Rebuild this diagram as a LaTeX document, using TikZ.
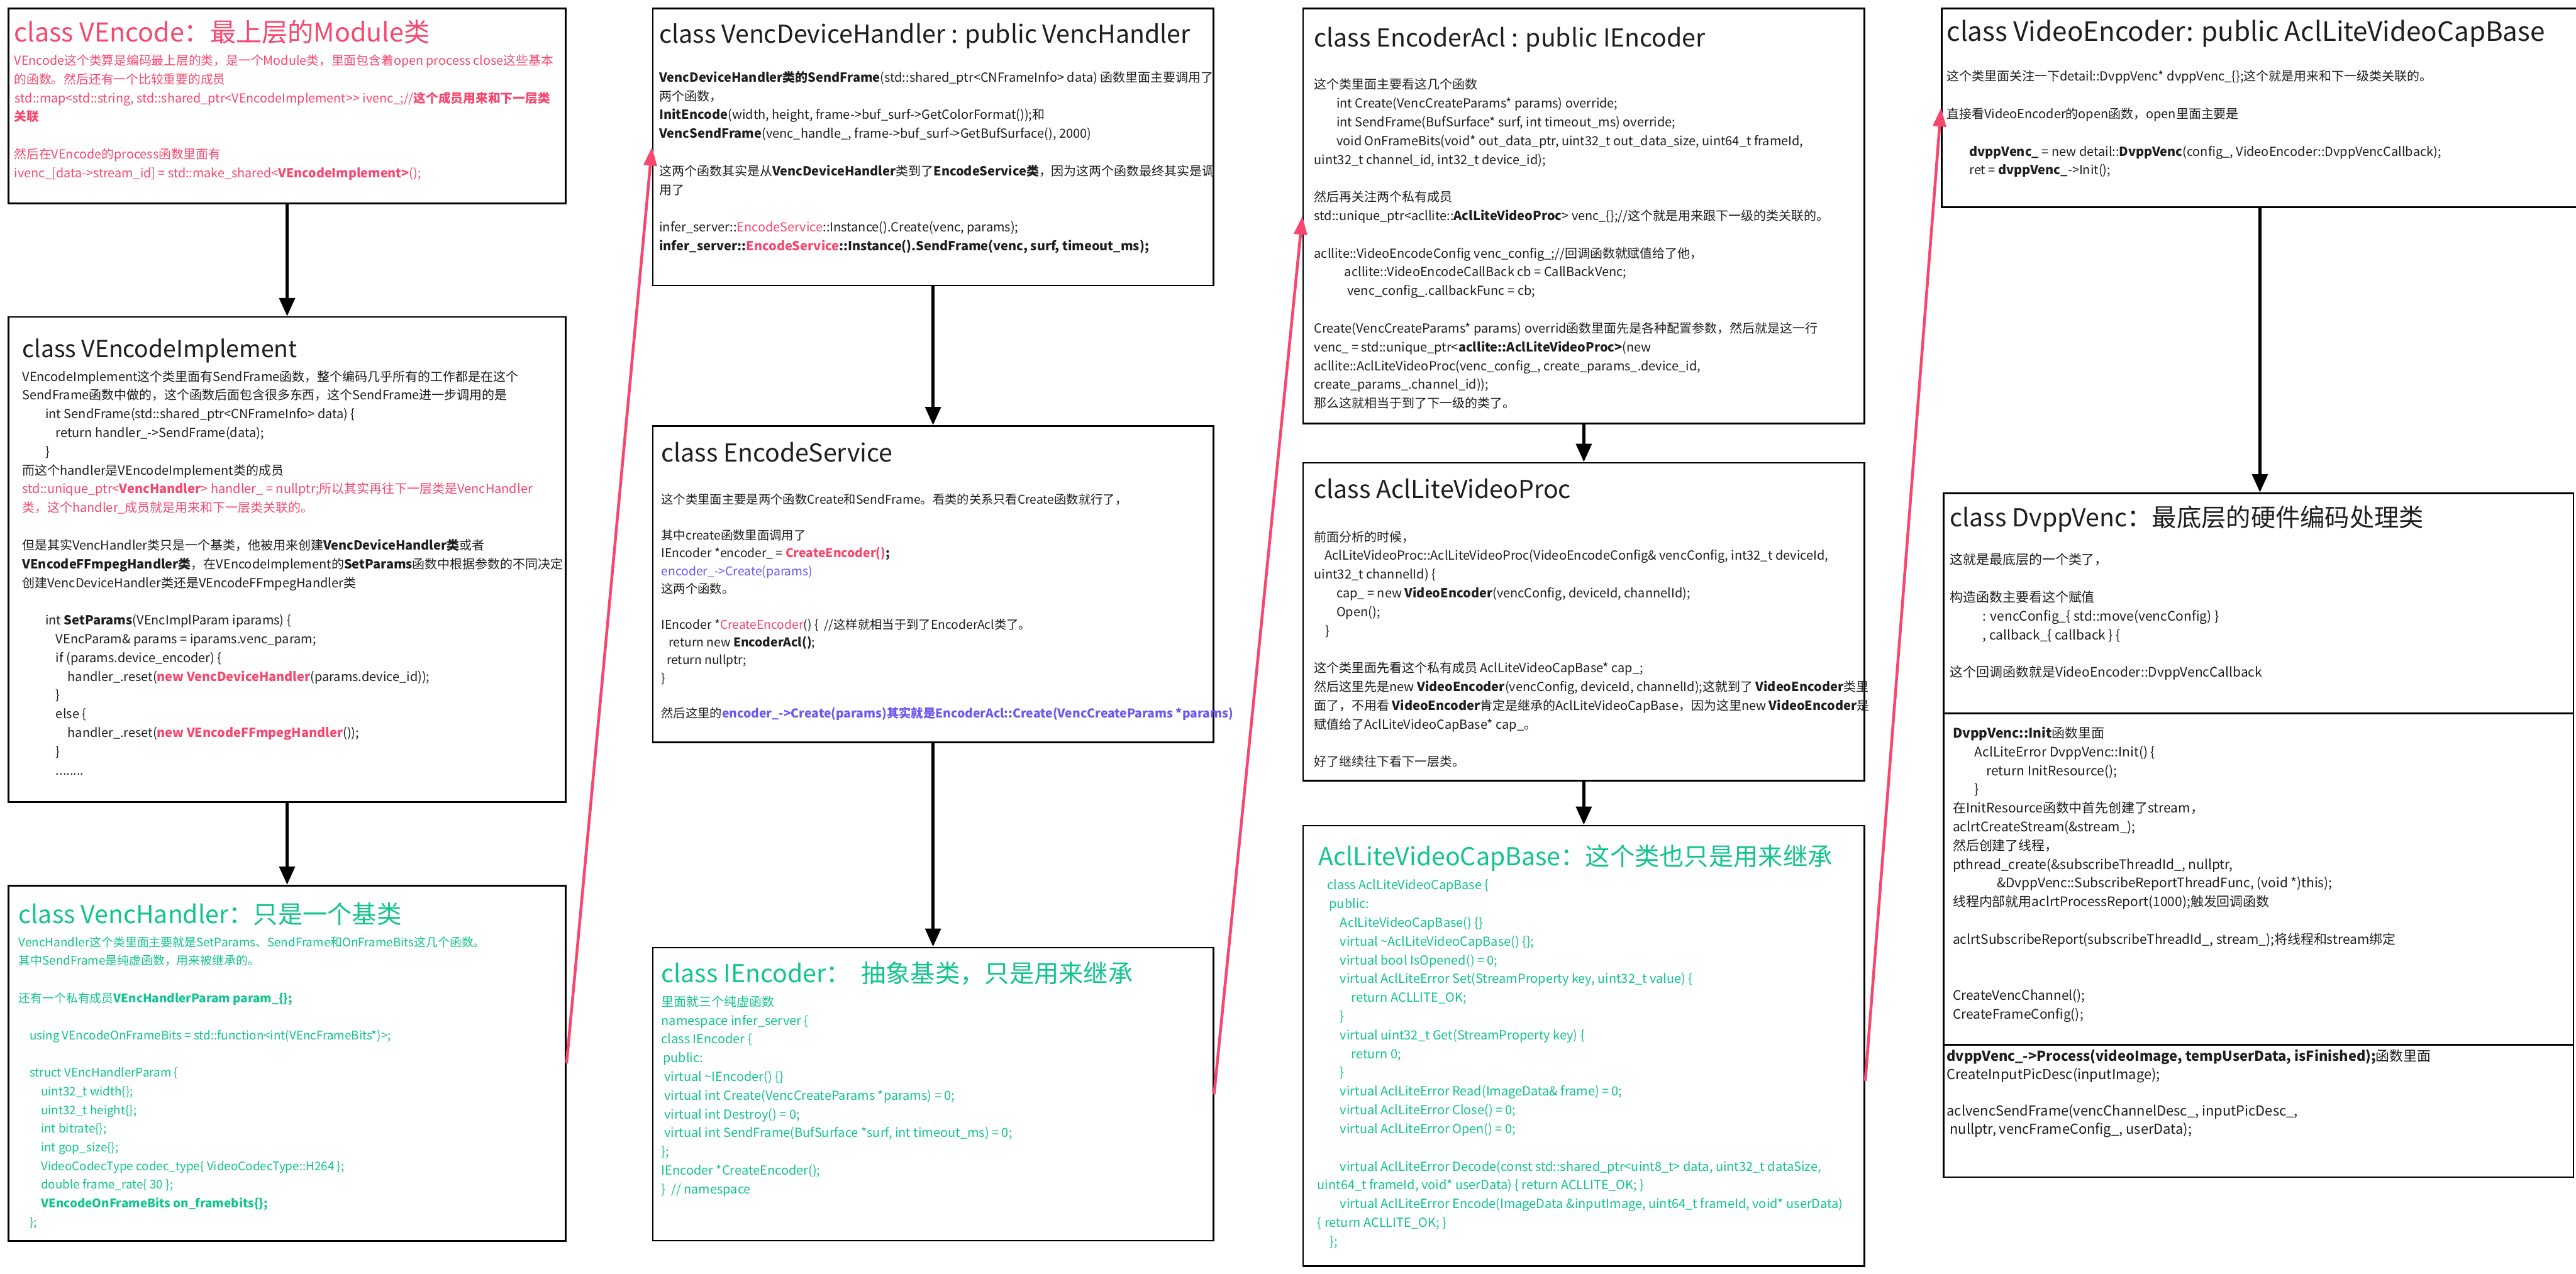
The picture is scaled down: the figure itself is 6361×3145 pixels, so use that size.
\documentclass[tikz,border=0pt]{standalone}
\usepackage{fontspec}
\setmainfont{Noto Sans CJK SC}
\usepackage{xcolor}
\usetikzlibrary{arrows.meta, positioning}
\definecolor{vred}{HTML}{F7476E}
\definecolor{vgreen}{HTML}{12C48E}
\definecolor{vpurple}{HTML}{6B57F2}
\definecolor{vink}{HTML}{1E1E1E}
\newcommand{\topstrut}{\rule{0pt}{35pt}}

\begin{document}
\begin{tikzpicture}[x=1pt, y=-1pt,
  clsbox/.style={draw=black, line width=4pt, inner sep=0pt, anchor=north west},
  ttl/.style={anchor=base west, inner sep=0pt, text=vink, font=\fontsize{#1}{#1}\selectfont},
  ttl/.default=61,
  body/.style={anchor=north west, inner sep=0pt, align=left, text=vink, font=\fontsize{31}{46.3}\selectfont},
  blk/.style={-{Triangle[length=45pt,width=38pt]}, line width=8pt, black},
  pnk/.style={-{Triangle[length=46pt,width=32pt]}, line width=7pt, vred},
]
\fill[white] (0,0) rectangle (6361,3145);
\useasboundingbox (0,0) rectangle (6361,3145);

% Column 1: VEncode -> VEncodeImplement -> VencHandler
\node[clsbox, minimum width=1376pt, minimum height=481pt] (venc) at (19,19) {};
\node[clsbox, minimum width=1376pt, minimum height=1198pt, below=277pt of venc.south west, anchor=north west] (impl) {};
\node[clsbox, minimum width=1376pt, minimum height=878pt, below=202pt of impl.south west, anchor=north west] (hdl) {};

% Column 2: VencDeviceHandler -> EncodeService -> IEncoder
\node[clsbox, minimum width=1384pt, minimum height=684pt, right=211pt of venc.north east, anchor=north west] (dev) {};
\node[clsbox, minimum width=1384pt, minimum height=781pt, below=343pt of dev.south west, anchor=north west] (svc) {};
\node[clsbox, minimum width=1384pt, minimum height=724pt, below=503pt of svc.south west, anchor=north west] (ienc) {};

% Column 3: EncoderAcl -> AclLiteVideoProc -> AclLiteVideoCapBase
\node[clsbox, minimum width=1386pt, minimum height=1025pt, right=218pt of dev.north east, anchor=north west] (acl) {};
\node[clsbox, minimum width=1386pt, minimum height=785pt, below=93pt of acl.south west, anchor=north west] (proc) {};
\node[clsbox, minimum width=1386pt, minimum height=1088pt, below=107pt of proc.south west, anchor=north west] (cap) {};

% Column 4: VideoEncoder -> DvppVenc (three parts)
\node[clsbox, minimum width=1571pt, minimum height=491pt, right=187pt of acl.north east, anchor=north west] (vid) {};
\node[clsbox, minimum width=1556pt, minimum height=544pt, below=702pt of vid.south west, anchor=north west, xshift=4pt] (dvpp) {};
\node[clsbox, minimum width=1556pt, minimum height=818pt, below=-4pt of dvpp.south west, anchor=north west] (init) {};
\node[clsbox, minimum width=1556pt, minimum height=327pt, below=-4pt of init.south west, anchor=north west] (prcs) {};

% Titles
\node[ttl=64, text=vred] (vencT) at ([xshift=16pt,yshift=-84pt]venc.north west) {class VEncode：最上层的Module类};
\node[ttl=58] (implT) at ([xshift=36pt,yshift=-102pt]impl.north west) {class VEncodeImplement};
\node[ttl, text=vgreen] (hdlT) at ([xshift=27pt,yshift=-95pt]hdl.north west) {class VencHandler：只是一个基类};
\node[ttl] (devT) at ([xshift=18pt,yshift=-88pt]dev.north west) {class VencDeviceHandler : public VencHandler};
\node[ttl] (svcT) at ([xshift=23pt,yshift=-90pt]svc.north west) {class EncodeService};
\node[ttl, text=vgreen] (iencT) at ([xshift=23pt,yshift=-89pt]ienc.north west) {class IEncoder：\hspace{26pt}抽象基类，只是用来继承};
\node[ttl] (aclT) at ([xshift=29pt,yshift=-97pt]acl.north west) {class EncoderAcl : public IEncoder};
\node[ttl] (procT) at ([xshift=29pt,yshift=-90pt]proc.north west) {class AclLiteVideoProc};
\node[ttl, text=vgreen] (capT) at ([xshift=39pt,yshift=-101pt]cap.north west) {AclLiteVideoCapBase：这个类也只是用来继承};
\node[ttl=65.5] (vidT) at ([xshift=14pt,yshift=-83pt]vid.north west) {class VideoEncoder: public AclLiteVideoCapBase};
\node[ttl] (dvppT) at ([xshift=18pt,yshift=-85pt]dvpp.north west) {class DvppVenc：最底层的硬件编码处理类};

% Bodies
\node[body, text=vred, font=\fontsize{30.7}{46.5}\selectfont] (vencB) at ([xshift=16pt,yshift=-106pt]venc.north west) {%
\topstrut VEncode这个类算是编码最上层的类，是一个Module类，里面包含着open process close这些基本\\
的函数。然后还有一个比较重要的成员\\
\hspace*{2pt}std::map<std::string, std::shared\_ptr<VEncodeImplement>{}> ivenc\_;//\textbf{这个成员用来和下一层类}\\
\textbf{关联}\\[46.5pt]
然后在VEncode的process函数里面有\\
ivenc\_[data->stream\_id] = std::make\_shared<\textbf{VEncodeImplement>}();};

\node[body] (implB) at ([xshift=36pt,yshift=-125pt]impl.north west) {%
\topstrut VEncodeImplement这个类里面有SendFrame函数，整个编码几乎所有的工作都是在这个\\
SendFrame函数中做的，这个函数后面包含很多东西，这个SendFrame进一步调用的是\\
\hspace*{57pt}int SendFrame(std::shared\_ptr<CNFrameInfo> data) \{\\
\hspace*{83pt}return handler\_->SendFrame(data);\\
\hspace*{57pt}\}\\
而这个handler是VEncodeImplement类的成员\\
\textcolor{vred}{std::unique\_ptr<\textbf{VencHandler}> handler\_ = nullptr;所以其实再往下一层类是VencHandler}\\
\textcolor{vred}{类，这个handler\_成员就是用来和下一层类关联的。}\\[46.3pt]
但是其实VencHandler类只是一个基类，他被用来创建\textbf{VencDeviceHandler类}或者\\
\textbf{VEncodeFFmpegHandler类}，在VEncodeImplement的\textbf{SetParams}函数中根据参数的不同决定\\
创建VencDeviceHandler类还是VEncodeFFmpegHandler类\\[46.3pt]
\hspace*{57pt}int \textbf{SetParams}(VEncImplParam iparams) \{\\
\hspace*{83pt}VEncParam\& params = iparams.venc\_param;\\
\hspace*{83pt}if (params.device\_encoder) \{\\
\hspace*{112pt}handler\_.reset(\textcolor{vred}{\textbf{new VencDeviceHandler}}(params.device\_id));\\
\hspace*{83pt}\}\\
\hspace*{83pt}else \{\\
\hspace*{112pt}handler\_.reset(\textcolor{vred}{\textbf{new VEncodeFFmpegHandler}}());\\
\hspace*{83pt}\}\\
\hspace*{83pt}........};

\node[body, text=vgreen, font=\fontsize{29.3}{46.1}\selectfont] (hdlB) at ([xshift=27pt,yshift=-117pt]hdl.north west) {%
\topstrut VencHandler这个类里面主要就是SetParams、SendFrame和OnFrameBits这几个函数。\\
其中SendFrame是纯虚函数，用来被继承的。\\[46.1pt]
还有一个私有成员\textbf{VEncHandlerParam param\_\{\};}\\[46.1pt]
\hspace*{27pt}using VEncodeOnFrameBits = std::function<int(VEncFrameBits*)>;\\[46.1pt]
\hspace*{27pt}struct VEncHandlerParam \{\\
\hspace*{55pt}uint32\_t width\{\};\\
\hspace*{55pt}uint32\_t height\{\};\\
\hspace*{55pt}int bitrate\{\};\\
\hspace*{55pt}int gop\_size\{\};\\
\hspace*{55pt}VideoCodecType codec\_type\{ VideoCodecType::H264 \};\\
\hspace*{55pt}double frame\_rate\{ 30 \};\\
\hspace*{55pt}\textbf{VEncodeOnFrameBits on\_framebits\{\};}\\
\hspace*{27pt}\};};

\node[body] (devB) at ([xshift=18pt,yshift=-148pt]dev.north west) {%
\topstrut\textbf{VencDeviceHandler类的SendFrame}(std::shared\_ptr<CNFrameInfo> data) 函数里面主要调用了\\
两个函数，\\
\textbf{InitEncode}(width, height, frame->buf\_surf->GetColorFormat());和\\
\textbf{VencSendFrame}(venc\_handle\_, frame->buf\_surf->GetBufSurface(), 2000)\\[46.3pt]
这两个函数其实是从\textbf{VencDeviceHandler}类到了\textbf{EncodeService类}，因为这两个函数最终其实是调\\
用了\\[46.3pt]
infer\_server::\textcolor{vred}{EncodeService}::Instance().Create(venc, params);\\
\textbf{infer\_server::\textcolor{vred}{EncodeService}::Instance().SendFrame(venc, surf, timeout\_ms);}};

\node[body, font=\fontsize{30}{44}\selectfont] (svcB) at ([xshift=23pt,yshift=-160pt]svc.north west) {%
\topstrut 这个类里面主要是两个函数Create和SendFrame。看类的关系只看Create函数就行了，\\[44pt]
其中create函数里面调用了\\
IEncoder *encoder\_ = \textcolor{vred}{\textbf{CreateEncoder()}}\textbf{;}\\
\textcolor{vpurple}{encoder\_->Create(params)}\\
这两个函数。\\[44pt]
IEncoder *\textcolor{vred}{CreateEncoder}() \{ \ //这样就相当于到了EncoderAcl类了。\\
\hspace*{18pt}return new \textbf{EncoderAcl()};\\
\hspace*{13pt}return nullptr;\\
\}\\[44pt]
然后这里的\textcolor{vpurple}{\textbf{encoder\_->Create(params)其实就是EncoderAcl::Create(VencCreateParams *params)}}};

\node[body, text=vgreen] (iencB) at ([xshift=23pt,yshift=-112pt]ienc.north west) {%
\topstrut 里面就三个纯虚函数\\
namespace infer\_server \{\\
class IEncoder \{\\
\hspace*{4pt}public:\\
\hspace*{7pt}virtual \textasciitilde IEncoder() \{\}\\
\hspace*{7pt}virtual int Create(VencCreateParams *params) = 0;\\
\hspace*{7pt}virtual int Destroy() = 0;\\
\hspace*{7pt}virtual int SendFrame(BufSurface *surf, int timeout\_ms) = 0;\\
\};\\
IEncoder *CreateEncoder();\\
\} \ // namespace};

\node[body] (aclB) at ([xshift=29pt,yshift=-166pt]acl.north west) {%
\topstrut 这个类里面主要看这几个函数\\
\hspace*{55pt}int Create(VencCreateParams* params) override;\\
\hspace*{55pt}int SendFrame(BufSurface* surf, int timeout\_ms) override;\\
\hspace*{55pt}void OnFrameBits(void* out\_data\_ptr, uint32\_t out\_data\_size, uint64\_t frameId,\\
uint32\_t channel\_id, int32\_t device\_id);\\[46.3pt]
然后再关注两个私有成员\\
std::unique\_ptr<acllite::\textbf{AclLiteVideoProc}> venc\_\{\};//这个就是用来跟下一级的类关联的。\\[46.3pt]
acllite::VideoEncodeConfig venc\_config\_;//回调函数就赋值给了他，\\
\hspace*{75pt}acllite::VideoEncodeCallBack cb = CallBackVenc;\\
\hspace*{82pt}venc\_config\_.callbackFunc = cb;\\[46.3pt]
Create(VencCreateParams* params) overrid函数里面先是各种配置参数，然后就是这一行\\
venc\_ = std::unique\_ptr<\textbf{acllite::AclLiteVideoProc>}(new\\
acllite::AclLiteVideoProc(venc\_config\_, create\_params\_.device\_id,\\
create\_params\_.channel\_id));\\
那么这就相当于到了下一级的类了。};

\node[body] (procB) at ([xshift=29pt,yshift=-161pt]proc.north west) {%
\topstrut 前面分析的时候，\\
\hspace*{26pt}AclLiteVideoProc::AclLiteVideoProc(VideoEncodeConfig\& vencConfig, int32\_t deviceId,\\
uint32\_t channelId) \{\\
\hspace*{55pt}cap\_ = new \textbf{VideoEncoder}(vencConfig, deviceId, channelId);\\
\hspace*{55pt}Open();\\
\hspace*{27pt}\}\\[46.3pt]
这个类里面先看这个私有成员 AclLiteVideoCapBase* cap\_;\\
然后这里先是new \textbf{VideoEncoder}(vencConfig, deviceId, channelId);这就到了 \textbf{VideoEncoder}类里\\
面了，不用看 \textbf{VideoEncoder}肯定是继承的AclLiteVideoCapBase，因为这里new \textbf{VideoEncoder}是\\
赋值给了AclLiteVideoCapBase* cap\_。\\[46.3pt]
好了继续往下看下一层类。};

\node[body, text=vgreen] (capB) at ([xshift=37pt,yshift=-125pt]cap.north west) {%
\topstrut\hspace*{24pt}class AclLiteVideoCapBase \{\\
\hspace*{29pt}public:\\
\hspace*{56pt}AclLiteVideoCapBase() \{\}\\
\hspace*{56pt}virtual \textasciitilde AclLiteVideoCapBase() \{\};\\
\hspace*{56pt}virtual bool IsOpened() = 0;\\
\hspace*{56pt}virtual AclLiteError Set(StreamProperty key, uint32\_t value) \{\\
\hspace*{84pt}return ACLLITE\_OK;\\
\hspace*{56pt}\}\\
\hspace*{56pt}virtual uint32\_t Get(StreamProperty key) \{\\
\hspace*{84pt}return 0;\\
\hspace*{56pt}\}\\
\hspace*{56pt}virtual AclLiteError Read(ImageData\& frame) = 0;\\
\hspace*{56pt}virtual AclLiteError Close() = 0;\\
\hspace*{56pt}virtual AclLiteError Open() = 0;\\[46.3pt]
\hspace*{56pt}virtual AclLiteError Decode(const std::shared\_ptr<uint8\_t> data, uint32\_t dataSize,\\
uint64\_t frameId, void* userData) \{ return ACLLITE\_OK; \}\\
\hspace*{56pt}virtual AclLiteError Encode(ImageData \&inputImage, uint64\_t frameId, void* userData)\\
\{ return ACLLITE\_OK; \}\\
\hspace*{31pt}\};};

\node[body] (vidB) at ([xshift=14pt,yshift=-146pt]vid.north west) {%
\topstrut 这个类里面关注一下detail::DvppVenc* dvppVenc\_\{\};这个就是用来和下一级类关联的。\\[46.3pt]
直接看VideoEncoder的open函数，open里面主要是\\[46.3pt]
\hspace*{56pt}\textbf{dvppVenc\_} = new detail::\textbf{DvppVenc}(config\_, VideoEncoder::DvppVencCallback);\\
\hspace*{56pt}ret = \textbf{dvppVenc\_}->Init();};

\node[body, font=\fontsize{32.5}{46.3}\selectfont] (dvppB) at ([xshift=18pt,yshift=-143pt]dvpp.north west) {%
\topstrut 这就是最底层的一个类了，\\[46.3pt]
构造函数主要看这个赋值\\
\hspace*{81pt}: vencConfig\_\{ std::move(vencConfig) \}\\
\hspace*{81pt}, callback\_\{ callback \} \{\\[46.3pt]
这个回调函数就是VideoEncoder::DvppVencCallback};

\node[body, font=\fontsize{32.5}{46.3}\selectfont] (initB) at ([xshift=25pt,yshift=-27pt]init.north west) {%
\topstrut\textbf{DvppVenc::Init}函数里面\\
\hspace*{54pt}AclLiteError DvppVenc::Init() \{\\
\hspace*{83pt}return InitResource();\\
\hspace*{54pt}\}\\
在InitResource函数中首先创建了stream，\\
aclrtCreateStream(\&stream\_);\\
然后创建了线程，\\
pthread\_create(\&subscribeThreadId\_, nullptr,\\
\hspace*{109pt}\&DvppVenc::SubscribeReportThreadFunc, (void *)this);\\
线程内部就用aclrtProcessReport(1000);触发回调函数\\[46.3pt]
aclrtSubscribeReport(subscribeThreadId\_, stream\_);将线程和stream绑定\\[92.6pt]
CreateVencChannel();\\
CreateFrameConfig();};

\node[body, font=\fontsize{34}{45}\selectfont] (prcsB) at ([xshift=10pt,yshift=-7pt]prcs.north west) {%
\topstrut\textbf{dvppVenc\_->Process(videoImage, tempUserData, isFinished);}函数里面\\
CreateInputPicDesc(inputImage);\\[45pt]
aclvencSendFrame(vencChannelDesc\_, inputPicDesc\_,\\
\ nullptr, vencFrameConfig\_, userData);};

% Downward calls inside each column
\draw[blk] (venc.south) -- (venc.south |- impl.north);
\draw[blk] (impl.south) -- (impl.south |- hdl.north);
\draw[blk] (dev.south) -- (dev.south |- svc.north);
\draw[blk] (svc.south) -- (svc.south |- ienc.north);
\draw[blk] (acl.south) -- (acl.south |- proc.north);
\draw[blk] (proc.south) -- (proc.south |- cap.north);
\draw[blk] (vid.south) -- (vid.south |- dvpp.north);

% Jumps to the next column
\draw[pnk] (hdl.east) -- (dev.west);
\draw[pnk] (ienc.east) -- (acl.west);
\draw[pnk] ([yshift=-86pt]cap.east) -- (vid.west);
\end{tikzpicture}
\end{document}
